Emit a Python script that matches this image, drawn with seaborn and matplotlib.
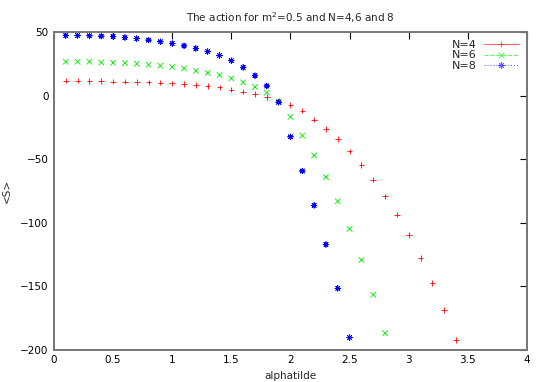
import numpy as np
import pandas as pd
import seaborn as sns
import matplotlib.pyplot as plt
from matplotlib.lines import Line2D

# alphatilde values and <S> for each N
x_n4 = [0.1, 0.2, 0.3, 0.4, 0.5, 0.6, 0.7, 0.8, 0.9, 1.0, 1.1, 1.2, 1.3, 1.4, 1.5, 1.6, 1.7,
        1.8, 1.9, 2.0, 2.1, 2.2, 2.3, 2.4, 2.5, 2.6, 2.7, 2.8, 2.9, 3.0, 3.1, 3.2, 3.3, 3.4]
s_n4 = [11.8, 11.8, 11.5, 11.5, 11.0, 11.0, 10.7, 10.4, 10.2, 9.6, 9.2, 8.4, 7.6, 6.5, 4.7, 3.1, 1.3,
        -1.0, -3.9, -7.3, -11.8, -18.8, -26.1, -34.3, -43.9, -54.4, -66.1, -79.2, -93.6, -109.8,
        -127.6, -147.2, -168.6, -192.2]

x_n6 = [0.1, 0.2, 0.3, 0.4, 0.5, 0.6, 0.7, 0.8, 0.9, 1.0, 1.1, 1.2, 1.3, 1.4, 1.5, 1.6, 1.7,
        1.8, 1.9, 2.0, 2.1, 2.2, 2.3, 2.4, 2.5, 2.6, 2.7, 2.8]
s_n6 = [26.7, 26.7, 26.7, 26.1, 25.9, 25.6, 25.1, 24.3, 23.5, 22.5, 21.4, 19.6, 17.8, 16.2, 13.6,
        10.4, 6.8, 2.4, -4.8, -16.7, -31.4, -47.1, -64.1, -83.1, -104.8, -129.2, -156.6, -186.9]

x_n8 = [0.1, 0.2, 0.3, 0.4, 0.5, 0.6, 0.7, 0.8, 0.9, 1.0, 1.1, 1.2, 1.3, 1.4, 1.5, 1.6, 1.7,
        1.8, 1.9, 2.0, 2.1, 2.2, 2.3, 2.4, 2.5]
s_n8 = [47.3, 47.3, 47.1, 46.8, 46.5, 45.7, 44.9, 43.7, 42.4, 41.0, 39.2, 37.1, 34.7, 31.6, 27.5,
        22.2, 15.7, 7.6, -5.2, -32.4, -59.3, -86.3, -117.1, -151.6, -190.3]

labels = ["N=4", "N=6", "N=8"]
colors = {"N=4": "#ff0000", "N=6": "#00ee00", "N=8": "#0000ff"}
markers = {"N=4": "+", "N=6": "x", "N=8": (8, 2, 0)}
linestyles = {"N=4": "-", "N=6": "--", "N=8": ":"}

df = pd.concat([
    pd.DataFrame({"alphatilde": x_n4, "S": s_n4, "N": "N=4"}),
    pd.DataFrame({"alphatilde": x_n6, "S": s_n6, "N": "N=6"}),
    pd.DataFrame({"alphatilde": x_n8, "S": s_n8, "N": "N=8"}),
])

sns.set_style("white")
plt.rcParams["font.family"] = ["DejaVu Sans"]

fig = plt.figure(figsize=(5.45, 3.82), dpi=100)
ax = fig.add_axes([0.099, 0.084, 0.868, 0.832])

sns.scatterplot(data=df, x="alphatilde", y="S", hue="N", style="N",
                palette=colors, markers=markers, s=16, linewidth=0.6,
                legend=False, ax=ax)

ax.set_xlim(0, 4)
ax.set_ylim(-200, 50)
ax.set_xticks(np.arange(0, 4.01, 0.5))
ax.set_xticklabels(["0", "0.5", "1", "1.5", "2", "2.5", "3", "3.5", "4"])
ax.set_yticks(np.arange(-200, 51, 50))
ax.tick_params(direction="in", length=5, width=0.8, labelsize=7.5,
               top=True, right=True, colors="black", pad=4)
for sp in ax.spines.values():
    sp.set_color("#777777")
    sp.set_linewidth(1.4)

ax.set_xlabel("alphatilde", fontsize=7.5, labelpad=4)
ax.set_ylabel("<S>", fontsize=7.5, labelpad=6)
ax.set_title("The action for m$^2$=0.5 and N=4,6 and 8", fontsize=7.5, pad=7)

handles = [Line2D([], [], color=colors[k], marker=markers[k], linestyle=linestyles[k],
                  linewidth=0.8, markersize=4.5, markeredgewidth=0.7, alpha=0.6)
           for k in labels]
ax.legend(handles, labels, loc="upper right", frameon=False, markerfirst=False,
          fontsize=8, handlelength=3.2, handletextpad=0.6, labelspacing=0.05,
          borderaxespad=0.3)

fig.savefig("out.png", dpi=100)
